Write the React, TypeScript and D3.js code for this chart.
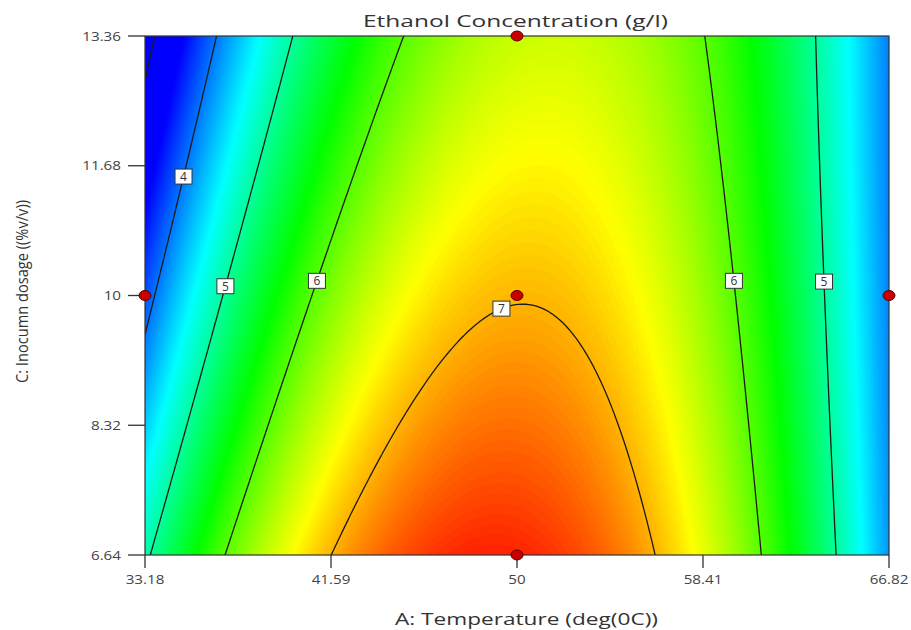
import { useMemo } from "react";
import * as d3 from "d3";

// quadratic response model in coded units (a = temperature, c = inoculum dosage)
// [b0, bA, bC, bAC, bAA, bCC]
const modelCoefs = [6.981, 0.109, -0.548, 0.497, -3.03, 0.033];

const tempRange = [33.18, 66.82];
const doseRange = [6.64, 13.36];
const xTicks = [33.18, 41.59, 50, 58.41, 66.82];
const yTicks = [6.64, 8.32, 10, 11.68, 13.36];

const lineLevels = [3, 4, 5, 6, 7];
// label placement: level, dosage where the label sits, which branch of the curve
const labelLevels = [4, 5, 6, 7, 6, 5];
const labelDose = [11.54, 10.12, 10.19, 9.83, 10.19, 10.18];
const labelSide = [-1, -1, -1, -1, 1, 1];

// design points (temperature, dosage)
const designTemp = [50, 50, 50, 33.18, 66.82];
const designDose = [13.36, 10, 6.64, 10, 10];

const colorStops = [3.5, 4.6, 5.65, 6.7, 7.7];
const colorRange = ["#0000ff", "#00ffff", "#00ff00", "#ffff00", "#ff0000"];

const W = 911;
const H = 630;
const M = { left: 145, right: 889, top: 36, bottom: 555 };
const FONT = "'Open Sans', 'Noto Sans', sans-serif";
const STRETCH = 1.17; // the picture's text is a little wide

function toCoded(v: number, r: number[]) {
  return (v - (r[0] + r[1]) / 2) / ((r[1] - r[0]) / 2);
}

function model(a: number, c: number) {
  const [b0, b1, b2, b12, b11, b22] = modelCoefs;
  return b0 + b1 * a + b2 * c + b12 * a * c + b11 * a * a + b22 * c * c;
}

// solve model(a, c) = level for a
function solveA(level: number, c: number, side: number) {
  const [b0, b1, b2, b12, b11, b22] = modelCoefs;
  const qa = b11;
  const qb = b1 + b12 * c;
  const qc = b0 + b2 * c + b22 * c * c - level;
  const disc = qb * qb - 4 * qa * qc;
  if (disc < 0) return -qb / (2 * qa);
  const r1 = (-qb + Math.sqrt(disc)) / (2 * qa);
  const r2 = (-qb - Math.sqrt(disc)) / (2 * qa);
  return side < 0 ? Math.min(r1, r2) : Math.max(r1, r2);
}

export default function App() {
  const x = d3.scaleLinear().domain(tempRange).range([M.left, M.right]);
  const y = d3.scaleLinear().domain(doseRange).range([M.bottom, M.top]);
  const color = d3
    .scaleLinear<string>()
    .domain(colorStops)
    .range(colorRange)
    .clamp(true);

  const nx = 220;
  const ny = 160;

  const { bands, lines, path } = useMemo(() => {
    const values: number[] = new Array(nx * ny);
    for (let j = 0; j < ny; j++) {
      const dose = doseRange[1] - ((doseRange[1] - doseRange[0]) * j) / (ny - 1);
      const c = toCoded(dose, doseRange);
      for (let i = 0; i < nx; i++) {
        const t = tempRange[0] + ((tempRange[1] - tempRange[0]) * i) / (nx - 1);
        values[j * nx + i] = model(toCoded(t, tempRange), c);
      }
    }
    const gx = d3.scaleLinear().domain([0, nx - 1]).range(tempRange);
    const gy = d3.scaleLinear().domain([0, ny - 1]).range([doseRange[1], doseRange[0]]);
    const proj = d3.geoTransform({
      point(px, py) {
        this.stream.point(x(gx(px - 0.5)), y(gy(py - 0.5)));
      },
    });
    const path = d3.geoPath(proj);
    const gen = d3.contours().size([nx, ny]);
    const bandT = d3.range(2.5, 7.8, 0.025);
    const bands = bandT.map((t) => ({ t, geo: gen.contour(values, t) }));
    const lines = lineLevels.map((t) => ({ t, geo: gen.contour(values, t) }));
    return { bands, lines, path };
  }, []);

  const labels = labelLevels.map((lv, i) => {
    const c = toCoded(labelDose[i], doseRange);
    const a = solveA(lv, c, labelSide[i]);
    const t = tempRange[0] + ((a + 1) / 2) * (tempRange[1] - tempRange[0]);
    return { lv, px: x(t), py: y(labelDose[i]) };
  });

  return (
    <svg
      width={W}
      height={H}
      style={{ position: "absolute", left: 0, top: 0, background: "#fff" }}
      fontFamily={FONT}
    >
      <defs>
        <clipPath id="plot">
          <rect x={M.left} y={M.top} width={M.right - M.left} height={M.bottom - M.top} />
        </clipPath>
      </defs>

      <g clipPath="url(#plot)">
        {bands.map((b, i) => (
          <path
            key={i}
            d={path(b.geo as any) || ""}
            fill={color(b.t + 0.0125)}
            stroke={color(b.t + 0.0125)}
            strokeWidth={0.8}
          />
        ))}
        {lines.map((l, i) => (
          <path key={i} d={path(l.geo as any) || ""} fill="none" stroke="#1a1a1a" strokeWidth={1.3} />
        ))}
      </g>

      <rect
        x={M.left}
        y={M.top}
        width={M.right - M.left}
        height={M.bottom - M.top}
        fill="none"
        stroke="#333"
        strokeWidth={1.2}
      />

      {/* y axis */}
      {yTicks.map((t) => (
        <g key={t}>
          <line x1={M.left - 17} x2={M.left} y1={y(t)} y2={y(t)} stroke="#333" strokeWidth={1.3} />
          <text
            transform={`translate(${M.left - 24},${y(t)}) scale(${STRETCH},1)`}
            dy="0.36em"
            textAnchor="end"
            fontSize={13}
            fill="#444"
          >
            {t}
          </text>
        </g>
      ))}
      {/* x axis */}
      {xTicks.map((t) => (
        <g key={t}>
          <line x1={x(t)} x2={x(t)} y1={M.bottom} y2={M.bottom + 13} stroke="#333" strokeWidth={1.3} />
          <text
            transform={`translate(${x(t)},${M.bottom + 29}) scale(${STRETCH},1)`}
            textAnchor="middle"
            fontSize={13}
            fill="#444"
          >
            {t}
          </text>
        </g>
      ))}

      {labels.map((l, i) => (
        <g key={i}>
          <rect x={l.px - 8.5} y={l.py - 7.5} width={17} height={15} fill="#fff" stroke="#333" strokeWidth={1} />
          <text x={l.px} y={l.py} dy="0.36em" textAnchor="middle" fontSize={12} fill="#333">
            {l.lv}
          </text>
        </g>
      ))}

      {designTemp.map((t, i) => (
        <ellipse
          key={i}
          cx={x(t)}
          cy={y(designDose[i])}
          rx={6}
          ry={5}
          fill="#c80000"
          stroke="#5a0000"
          strokeWidth={1}
        />
      ))}

      <text
        x={515.5}
        y={27}
        textAnchor="middle"
        fontSize={17}
        fill="#333"
        textLength={305}
        lengthAdjust="spacingAndGlyphs"
      >
        Ethanol Concentration (g/l)
      </text>
      <text
        x={526.5}
        y={625}
        textAnchor="middle"
        fontSize={17}
        fill="#333"
        textLength={263}
        lengthAdjust="spacingAndGlyphs"
      >
        A: Temperature (deg(0C))
      </text>
      <text
        transform={`translate(28,291.5) rotate(-90)`}
        textAnchor="middle"
        fontSize={16}
        fill="#333"
        textLength={183}
        lengthAdjust="spacingAndGlyphs"
      >
        C: Inocumn dosage ((%v/v))
      </text>
    </svg>
  );
}
